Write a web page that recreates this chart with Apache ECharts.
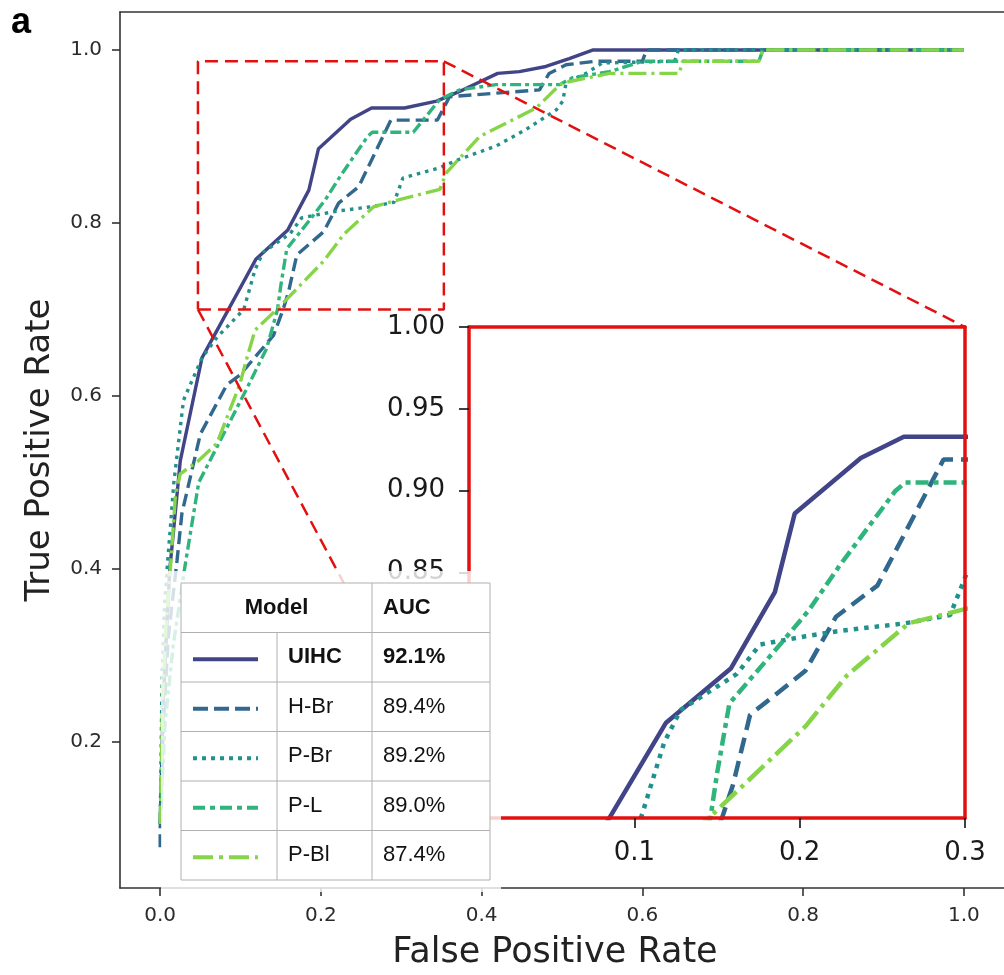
<!DOCTYPE html>
<html>
<head>
<meta charset="utf-8">
<script src="https://cdn.jsdelivr.net/npm/echarts@6/dist/echarts.min.js"></script>
<style>
  html, body { margin: 0; padding: 0; background: #ffffff; }
  #chart { width: 1004px; height: 975px; }
</style>
</head>
<body>
<div id="chart"></div>
<script>
// ROC curves of five models, with a zoomed view of the upper-left region.

const models = ['UIHC', 'H-Br', 'P-Br', 'P-L', 'P-Bl'];
const aucLabels = ['92.1%', '89.4%', '89.2%', '89.0%', '87.4%'];

const uihcFpr = [0, 0.004, 0.008, 0.012, 0.0166, 0.025, 0.052, 0.119, 0.1585, 0.185, 0.197, 0.237, 0.263, 0.304, 0.344, 0.377, 0.42, 0.447, 0.48, 0.509, 0.538, 1.0];
const uihcTpr = [0.105, 0.25, 0.33, 0.40, 0.444, 0.525, 0.644, 0.758, 0.7915, 0.838, 0.886, 0.92, 0.933, 0.933, 0.941, 0.954, 0.973, 0.975, 0.981, 0.99, 1.0, 1.0];

const hbrFpr = [0, 0, 0.004, 0.010, 0.021, 0.027, 0.05, 0.083, 0.099, 0.141, 0.153, 0.1596, 0.17, 0.2035, 0.222, 0.247, 0.287, 0.345, 0.36, 0.472, 0.484, 0.505, 0.542, 0.60, 0.605, 1.0];
const hbrTpr = [0.078, 0.10, 0.22, 0.32, 0.41, 0.464, 0.556, 0.613, 0.624, 0.67, 0.70, 0.72, 0.763, 0.79, 0.823, 0.842, 0.919, 0.919, 0.946, 0.954, 0.973, 0.983, 0.987, 0.987, 1.0, 1.0];

const pbrFpr = [0, 0.002, 0.005, 0.009, 0.012, 0.017, 0.029, 0.052, 0.070, 0.104, 0.118, 0.128, 0.162, 0.176, 0.2035, 0.222, 0.264, 0.291, 0.2985, 0.302, 0.348, 0.373, 0.418, 0.455, 0.493, 0.501, 0.505, 0.53, 0.55, 0.64, 0.645, 1.0];
const pbrTpr = [0.105, 0.25, 0.35, 0.405, 0.44, 0.50, 0.595, 0.644, 0.667, 0.70, 0.746, 0.766, 0.788, 0.806, 0.811, 0.814, 0.819, 0.824, 0.843, 0.852, 0.864, 0.874, 0.889, 0.908, 0.931, 0.941, 0.962, 0.973, 0.985, 0.987, 1.0, 1.0];

const plFpr = [0, 0.006, 0.016, 0.031, 0.048, 0.0745, 0.108, 0.1325, 0.146, 0.150, 0.1575, 0.189, 0.2056, 0.224, 0.258, 0.264, 0.315, 0.348, 0.373, 0.418, 0.497, 0.513, 0.559, 0.60, 0.745, 0.75, 1.0];
const plTpr = [0.105, 0.22, 0.31, 0.404, 0.50, 0.548, 0.609, 0.655, 0.70, 0.727, 0.77, 0.807, 0.827, 0.854, 0.90, 0.905, 0.905, 0.943, 0.954, 0.96, 0.96, 0.968, 0.975, 0.987, 0.987, 1.0, 1.0];

const pblFpr = [0, 0.003, 0.007, 0.013, 0.019, 0.025, 0.0476, 0.0704, 0.099, 0.108, 0.118, 0.145, 0.2035, 0.2285, 0.266, 0.2975, 0.348, 0.356, 0.3975, 0.468, 0.493, 0.501, 0.559, 0.646, 0.65, 0.745, 0.75, 1.0];
const pblTpr = [0.105, 0.25, 0.33, 0.405, 0.485, 0.51, 0.525, 0.545, 0.613, 0.644, 0.676, 0.70, 0.756, 0.787, 0.819, 0.827, 0.839, 0.858, 0.90, 0.933, 0.956, 0.962, 0.973, 0.973, 0.987, 0.987, 1.0, 1.0];

const xTicks = [0, 0.2, 0.4, 0.6, 0.8, 1.0];
const yTicks = [0.2, 0.4, 0.6, 0.8, 1.0];
const zoomXTicks = [0, 0.1, 0.2, 0.3];
const zoomYTicks = [0.70, 0.75, 0.80, 0.85, 0.90, 0.95, 1.00];

// region of the main plot that the zoomed view refers to
const zoomWindowX = [0.047, 0.353];
const zoomWindowY = [0.70, 0.987];

const curves = [
  { fpr: uihcFpr, tpr: uihcTpr },
  { fpr: hbrFpr, tpr: hbrTpr },
  { fpr: pbrFpr, tpr: pbrTpr },
  { fpr: plFpr, tpr: plTpr },
  { fpr: pblFpr, tpr: pblTpr }
];

const colors = ['#414487', '#31688e', '#21918c', '#2fb47c', '#86d549'];
const dashMain = ['solid', [13, 6], [3.5, 5], [11, 4, 4, 4], [18, 5, 3, 5]];
const dashZoom = ['solid', [16, 8], [4.5, 6], [13, 5, 5, 5], [22, 6, 4, 6]];
const dashLegend = [null, [15, 6], [4, 5], [12, 5, 5, 5], [20, 6, 4, 6]];

const FONT = 'DejaVu Sans';
const TABLE_FONT = '"Liberation Sans", Arial, sans-serif';
const RED = '#e31010';
const AXIS = '#333333';

function pairs(c) {
  return c.fpr.map((x, i) => [x, c.tpr[i]]);
}

const chart = echarts.init(document.getElementById('chart'), null, { renderer: 'canvas' });

const series = [];
curves.forEach((c, i) => {
  series.push({
    name: models[i], type: 'line', xAxisIndex: 0, yAxisIndex: 0,
    data: pairs(c), showSymbol: false, symbol: 'none', z: 2,
    lineStyle: { color: colors[i], width: 3.4, type: dashMain[i] }
  });
});
curves.forEach((c, i) => {
  series.push({
    name: models[i] + ' zoom', type: 'line', xAxisIndex: 2, yAxisIndex: 2,
    data: pairs(c), showSymbol: false, symbol: 'none', z: 5, clip: true,
    lineStyle: { color: colors[i], width: 4.5, type: dashZoom[i] }
  });
});

const redDash = { color: RED, width: 2.5, type: [13, 7] };
series.push({
  name: 'zoom window', type: 'line', xAxisIndex: 0, yAxisIndex: 0, z: 3,
  showSymbol: false, symbol: 'none', lineStyle: redDash,
  data: [
    [zoomWindowX[0], zoomWindowY[0]], [zoomWindowX[1], zoomWindowY[0]],
    [zoomWindowX[1], zoomWindowY[1]], [zoomWindowX[0], zoomWindowY[1]],
    [zoomWindowX[0], zoomWindowY[0]]
  ]
});

const mainTickLabel = { color: '#2b2b2b', fontFamily: FONT, fontSize: 20 };
const zoomTickLabel = { color: '#1a1a1a', fontFamily: FONT, fontSize: 26 };

const option = {
  animation: false,
  backgroundColor: '#ffffff',
  grid: [
    { left: 120, top: 12, width: 885, height: 881, containLabel: false, z: 0 },
    { left: 469, top: 327, width: 496, height: 491, show: true, backgroundColor: '#ffffff', borderWidth: 0, z: 4 }
  ],
  xAxis: [
    {
      type: 'value', gridIndex: 0, position: 'bottom', min: -0.05, max: 1.05,
      name: 'False Positive Rate', nameLocation: 'middle', nameGap: 47,
      nameTextStyle: { fontFamily: FONT, fontSize: 35, color: '#222', padding: [0, 14, 0, 0] },
      axisLine: { show: true, onZero: false, lineStyle: { color: AXIS, width: 1.6 } },
      axisTick: { show: true, length: 8, customValues: xTicks, lineStyle: { color: AXIS, width: 1.6 } },
      axisLabel: { ...mainTickLabel, margin: 18, customValues: xTicks, formatter: v => v.toFixed(1) },
      splitLine: { show: false }
    },
    {
      type: 'value', gridIndex: 0, position: 'top', min: -0.05, max: 1.05,
      axisLine: { show: true, onZero: false, lineStyle: { color: AXIS, width: 1.6 } },
      axisTick: { show: false }, axisLabel: { show: false }, splitLine: { show: false }
    },
    {
      type: 'value', gridIndex: 1, position: 'bottom', min: 0, max: 0.3, z: 6,
      axisLine: { show: true, onZero: false, lineStyle: { color: RED, width: 3.5 } },
      axisTick: { show: true, length: 10, customValues: zoomXTicks, lineStyle: { color: '#111', width: 1.6 } },
      axisLabel: { ...zoomTickLabel, margin: 22, customValues: zoomXTicks, formatter: v => v.toFixed(1) },
      splitLine: { show: false }
    },
    {
      type: 'value', gridIndex: 1, position: 'top', min: 0, max: 0.3, z: 6,
      axisLine: { show: true, onZero: false, lineStyle: { color: RED, width: 3.5 } },
      axisTick: { show: false }, axisLabel: { show: false }, splitLine: { show: false }
    }
  ],
  yAxis: [
    {
      type: 'value', gridIndex: 0, position: 'left', min: 0.031, max: 1.044,
      name: 'True Positive Rate', nameLocation: 'middle', nameGap: 63,
      nameTextStyle: { fontFamily: FONT, fontSize: 34, color: '#222' },
      axisLine: { show: true, onZero: false, lineStyle: { color: AXIS, width: 1.6 } },
      axisTick: { show: true, length: 8, customValues: yTicks, lineStyle: { color: AXIS, width: 1.6 } },
      axisLabel: { ...mainTickLabel, margin: 18, customValues: yTicks, formatter: v => v.toFixed(1) },
      splitLine: { show: false }
    },
    {
      type: 'value', gridIndex: 0, position: 'right', min: 0.031, max: 1.044,
      axisLine: { show: false }, axisTick: { show: false }, axisLabel: { show: false }, splitLine: { show: false }
    },
    {
      type: 'value', gridIndex: 1, position: 'left', min: 0.70, max: 1.00, z: 6,
      axisLine: { show: true, onZero: false, lineStyle: { color: RED, width: 3.5 } },
      axisTick: { show: true, length: 10, customValues: zoomYTicks, lineStyle: { color: '#111', width: 1.6 } },
      axisLabel: { ...zoomTickLabel, margin: 24, customValues: zoomYTicks, formatter: v => v.toFixed(2) },
      splitLine: { show: false }
    },
    {
      type: 'value', gridIndex: 1, position: 'right', min: 0.70, max: 1.00, z: 6,
      axisLine: { show: true, onZero: false, lineStyle: { color: RED, width: 3.5 } },
      axisTick: { show: false }, axisLabel: { show: false }, splitLine: { show: false }
    }
  ],
  series: series
};

chart.setOption(option);

// connector lines from the zoom window corners to the zoomed view corners
const zoomTopRight = chart.convertFromPixel({ gridIndex: 0 }, chart.convertToPixel({ gridIndex: 1 }, [0.3, 1.0]));
const zoomBottomLeft = chart.convertFromPixel({ gridIndex: 0 }, chart.convertToPixel({ gridIndex: 1 }, [0, 0.70]));

const connectorSeries = [
  {
    name: 'connector top', type: 'line', xAxisIndex: 0, yAxisIndex: 0, z: 3,
    showSymbol: false, symbol: 'none', lineStyle: redDash,
    data: [[zoomWindowX[1], zoomWindowY[1]], zoomTopRight]
  },
  {
    name: 'connector bottom', type: 'line', xAxisIndex: 0, yAxisIndex: 0, z: 3,
    showSymbol: false, symbol: 'none', lineStyle: redDash,
    data: [[zoomWindowX[0], zoomWindowY[0]], zoomBottomLeft]
  }
];

// legend table
const colEdges = [181, 277, 372, 490];
const tableTop = 583;
const rowH = 49.5;
const nRows = models.length + 1;
const tableBottom = tableTop + nRows * rowH;
const gridLine = '#b0b0b0';

const elements = [];
elements.push({
  type: 'text', z: 20,
  style: { text: 'a', x: 11, y: 23, font: 'bold 36px ' + TABLE_FONT, fill: '#000', align: 'left', verticalAlign: 'middle' }
});
elements.push({
  type: 'rect', z: 10, silent: true,
  shape: { x: 161, y: 571, width: 340, height: 321 },
  style: { fill: 'rgba(255,255,255,0.8)' }
});
elements.push({
  type: 'rect', z: 11, silent: true,
  shape: { x: colEdges[0], y: tableTop, width: colEdges[3] - colEdges[0], height: tableBottom - tableTop },
  style: { fill: '#ffffff', stroke: gridLine, lineWidth: 1 }
});
for (let r = 1; r < nRows; r++) {
  const y = tableTop + r * rowH;
  elements.push({ type: 'line', z: 12, silent: true, shape: { x1: colEdges[0], y1: y, x2: colEdges[3], y2: y }, style: { stroke: gridLine, lineWidth: 1 } });
}
elements.push({ type: 'line', z: 12, silent: true, shape: { x1: colEdges[1], y1: tableTop + rowH, x2: colEdges[1], y2: tableBottom }, style: { stroke: gridLine, lineWidth: 1 } });
elements.push({ type: 'line', z: 12, silent: true, shape: { x1: colEdges[2], y1: tableTop, x2: colEdges[2], y2: tableBottom }, style: { stroke: gridLine, lineWidth: 1 } });

const headY = tableTop + rowH / 2;
elements.push({ type: 'text', z: 13, style: { text: 'Model', x: (colEdges[0] + colEdges[2]) / 2, y: headY, font: 'bold 22px ' + TABLE_FONT, fill: '#111', align: 'center', verticalAlign: 'middle' } });
elements.push({ type: 'text', z: 13, style: { text: 'AUC', x: colEdges[2] + 11, y: headY, font: 'bold 22px ' + TABLE_FONT, fill: '#111', align: 'left', verticalAlign: 'middle' } });

models.forEach((m, i) => {
  const cy = tableTop + (i + 1) * rowH + rowH / 2;
  const weight = i === 0 ? 'bold ' : '';
  elements.push({
    type: 'line', z: 13, silent: true,
    shape: { x1: 193, y1: cy + 2, x2: 258, y2: cy + 2 },
    style: { stroke: colors[i], lineWidth: 4, lineDash: dashLegend[i] }
  });
  elements.push({ type: 'text', z: 13, style: { text: m, x: colEdges[1] + 11, y: cy, font: weight + '22px ' + TABLE_FONT, fill: '#111', align: 'left', verticalAlign: 'middle' } });
  elements.push({ type: 'text', z: 13, style: { text: aucLabels[i], x: colEdges[2] + 11, y: cy, font: weight + '22px ' + TABLE_FONT, fill: '#111', align: 'left', verticalAlign: 'middle' } });
});

chart.setOption({ series: series.concat(connectorSeries), graphic: { elements: elements } });
</script>
</body>
</html>
